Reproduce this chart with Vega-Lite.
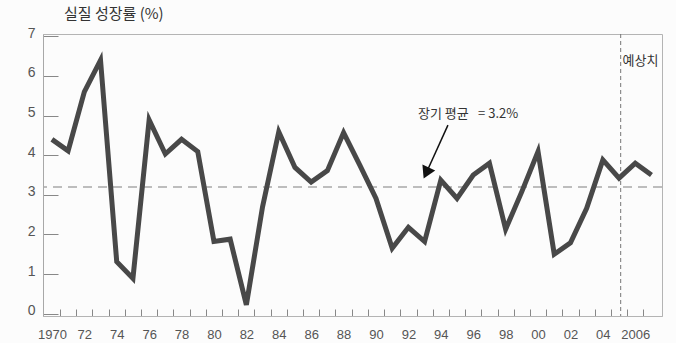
{
  "$schema": "https://vega.github.io/schema/vega-lite/v6.json",
  "autosize": "none",
  "width": 619,
  "height": 282,
  "padding": {"left": 43, "top": 34, "right": 14, "bottom": 27},
  "background": "#fcfcfc",
  "view": {"stroke": "#b4b4b4", "strokeWidth": 1},
  "title": {
    "text": "실질 성장률 (%)",
    "anchor": "start",
    "frame": "group",
    "dx": 21,
    "offset": 4,
    "fontSize": 15,
    "fontWeight": "normal",
    "font": "Noto Sans CJK KR",
    "color": "#333333"
  },
  "datasets": {
    "growth": [
      {"year": 1970, "rate": 4.40},
      {"year": 1971, "rate": 4.11},
      {"year": 1972, "rate": 5.60},
      {"year": 1973, "rate": 6.40},
      {"year": 1974, "rate": 1.31},
      {"year": 1975, "rate": 0.89},
      {"year": 1976, "rate": 4.89},
      {"year": 1977, "rate": 4.03},
      {"year": 1978, "rate": 4.40},
      {"year": 1979, "rate": 4.09},
      {"year": 1980, "rate": 1.82},
      {"year": 1981, "rate": 1.88},
      {"year": 1982, "rate": 0.22},
      {"year": 1983, "rate": 2.70},
      {"year": 1984, "rate": 4.59},
      {"year": 1985, "rate": 3.69},
      {"year": 1986, "rate": 3.32},
      {"year": 1987, "rate": 3.61},
      {"year": 1988, "rate": 4.57},
      {"year": 1989, "rate": 3.75},
      {"year": 1990, "rate": 2.91},
      {"year": 1991, "rate": 1.65},
      {"year": 1992, "rate": 2.18},
      {"year": 1993, "rate": 1.82},
      {"year": 1994, "rate": 3.37},
      {"year": 1995, "rate": 2.91},
      {"year": 1996, "rate": 3.50},
      {"year": 1997, "rate": 3.80},
      {"year": 1998, "rate": 2.13},
      {"year": 1999, "rate": 3.08},
      {"year": 2000, "rate": 4.09},
      {"year": 2001, "rate": 1.50},
      {"year": 2002, "rate": 1.79},
      {"year": 2003, "rate": 2.66},
      {"year": 2004, "rate": 3.88},
      {"year": 2005, "rate": 3.42},
      {"year": 2006, "rate": 3.80},
      {"year": 2007, "rate": 3.50}
    ],
    "average": [{"rate": 3.2}],
    "forecastStart": [{"year": 2005.1}],
    "notes": [
      {"year": 1992.59, "rate": 5.04, "label": "장기 평균"},
      {"year": 1996.3, "rate": 5.04, "label": "= 3.2%"},
      {"year": 2005.22, "rate": 6.38, "label": "예상치"}
    ],
    "arrow": [
      {"year": 1994.44, "rate": 4.76, "year2": 1993.1, "rate2": 3.55}
    ],
    "arrowHead": [{"year": 1993.1, "rate": 3.55}]
  },
  "layer": [
    {
      "data": {"name": "average"},
      "mark": {"type": "rule", "stroke": "#a8a8a8", "strokeWidth": 1.5, "strokeDash": [9, 6]},
      "encoding": {
        "y": {"field": "rate", "type": "quantitative", "scale": {"domain": [-0.06, 7.06], "nice": false, "zero": false}, "axis": null}
      }
    },
    {
      "data": {"name": "forecastStart"},
      "mark": {"type": "rule", "stroke": "#777777", "strokeWidth": 1, "strokeDash": [4, 3]},
      "encoding": {
        "x": {
          "field": "year", "type": "quantitative",
          "scale": {"domain": [1969.45, 2007.65], "nice": false, "zero": false},
          "axis": {
            "orient": "bottom",
            "values": [1970.5, 1971.5, 1972.5, 1973.5, 1974.5, 1975.5, 1976.5, 1977.5, 1978.5, 1979.5, 1980.5, 1981.5, 1982.5, 1983.5, 1984.5, 1985.5, 1986.5, 1987.5, 1988.5, 1989.5, 1990.5, 1991.5, 1992.5, 1993.5, 1994.5, 1995.5, 1996.5, 1997.5, 1998.5, 1999.5, 2000.5, 2001.5, 2002.5, 2003.5, 2004.5, 2005.5, 2006.5],
            "labels": false,
            "title": null,
            "grid": false,
            "domain": true,
            "domainColor": "#b4b4b4",
            "ticks": true,
            "tickSize": -7,
            "tickColor": "#888888"
          }
        }
      }
    },
    {
      "data": {"name": "growth"},
      "mark": {"type": "line", "stroke": "#484848", "strokeWidth": 5, "strokeJoin": "miter", "strokeCap": "butt"},
      "encoding": {
        "x": {
          "field": "year", "type": "quantitative",
          "axis": {
            "orient": "bottom",
            "values": [1970, 1972, 1974, 1976, 1978, 1980, 1982, 1984, 1986, 1988, 1990, 1992, 1994, 1996, 1998, 2000, 2002, 2004, 2006],
            "labelExpr": "(datum.value == 1970 || datum.value == 2006) ? format(datum.value, 'd') : slice(format(datum.value, 'd'), 2)",
            "ticks": false,
            "domain": false,
            "grid": false,
            "title": null,
            "labelPadding": 12,
            "labelFontSize": 13,
            "labelFont": "Liberation Sans",
            "labelColor": "#555555"
          }
        },
        "y": {
          "field": "rate", "type": "quantitative",
          "axis": {
            "orient": "left",
            "values": [0, 1, 2, 3, 4, 5, 6, 7],
            "title": null,
            "grid": false,
            "domain": true,
            "domainColor": "#a8a8a8",
            "ticks": true,
            "tickSize": -15,
            "tickColor": "#888888",
            "labelPadding": 23,
            "labelOffset": -3,
            "labelFontSize": 14,
            "labelFont": "Liberation Sans",
            "labelColor": "#555555"
          }
        }
      }
    },
    {
      "data": {"name": "arrow"},
      "mark": {"type": "rule", "stroke": "#111111", "strokeWidth": 1.5},
      "encoding": {
        "x": {"field": "year", "type": "quantitative", "axis": null},
        "y": {"field": "rate", "type": "quantitative", "axis": null},
        "x2": {"field": "year2"},
        "y2": {"field": "rate2"}
      }
    },
    {
      "data": {"name": "arrowHead"},
      "mark": {"type": "point", "shape": "triangle-up", "filled": true, "fill": "#111111", "stroke": null, "size": 200, "angle": 205, "opacity": 1},
      "encoding": {
        "x": {"field": "year", "type": "quantitative", "axis": null},
        "y": {"field": "rate", "type": "quantitative", "axis": null}
      }
    },
    {
      "data": {"name": "notes"},
      "mark": {"type": "text", "align": "left", "baseline": "middle", "font": "Noto Sans CJK KR", "fontSize": 13, "fill": "#333333"},
      "encoding": {
        "x": {"field": "year", "type": "quantitative", "axis": null},
        "y": {"field": "rate", "type": "quantitative", "axis": null},
        "text": {"field": "label"}
      }
    }
  ],
  "resolve": {"axis": {"x": "independent", "y": "independent"}}
}
